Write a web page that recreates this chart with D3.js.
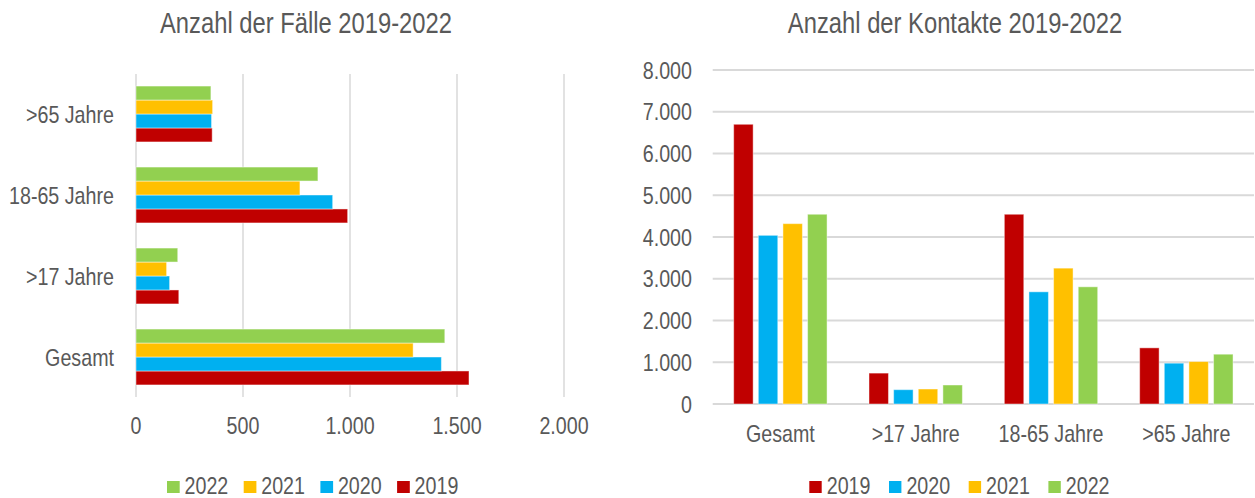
<!DOCTYPE html>
<html>
<head>
<meta charset="utf-8">
<script src="https://cdn.jsdelivr.net/npm/d3@7"></script>
<style>
  body { margin: 0; background: #fff; }
  svg text { font-family: 'Liberation Sans', Arial, sans-serif; fill: #595959; }
</style>
</head>
<body>
<svg id="chart" width="1255" height="498"></svg>
<script>
const groups = ['Gesamt', '>17 Jahre', '18-65 Jahre', '>65 Jahre']
const years = ['2019', '2020', '2021', '2022']
const colors = { 2019: '#C00000', 2020: '#00B0F0', 2021: '#FFC000', 2022: '#92D050' }

// Anzahl der Fälle, per group in order of `groups`
const faelle = {
  2019: [1556, 200, 989, 356],
  2020: [1427, 157, 919, 353],
  2021: [1295, 143, 766, 358],
  2022: [1443, 195, 850, 350]
}
// Anzahl der Kontakte
const kontakte = {
  2019: [6700, 740, 4545, 1345],
  2020: [4040, 343, 2687, 978],
  2021: [4320, 359, 3254, 1017],
  2022: [4545, 455, 2807, 1193]
}
const faelleTicks = [0, 500, 1000, 1500, 2000]
const kontakteTicks = [0, 1000, 2000, 3000, 4000, 5000, 6000, 7000, 8000]

const de = d3.formatLocale({ decimal: ',', thousands: '.', grouping: [3], currency: ['', '€'] })
const fmt = de.format(',')

// the original uses Arial Narrow: Arial squeezed horizontally
const SQ = 0.82
function place (sel, fx, fy) {
  sel.attr('transform', (d, i) => `translate(${fx(d, i)},${fy(d, i)}) scale(${SQ},1)`)
}

const svg = d3.select('#chart')

function rows (src) {
  return groups.map((g, i) => ({ group: g, values: years.map(y => ({ year: y, value: src[y][i] })) }))
}

// ---------- left: horizontal bars ----------
{
  const x = d3.scaleLinear().domain([0, 2000]).range([136, 564])
  const y = d3.scaleBand().domain(groups.slice().reverse()).range([73.5, 397.5])
    .paddingInner(0.31).paddingOuter(0.155)
  const yi = d3.scaleBand().domain(years.slice().reverse()).range([0, y.bandwidth()])

  const g = svg.append('g')

  g.selectAll('.grid')
    .data(faelleTicks)
    .enter().append('line')
      .attr('x1', d => x(d)).attr('x2', d => x(d))
      .attr('y1', 74).attr('y2', 397)
      .attr('stroke', '#d9d9d9').attr('stroke-width', 1.5)

  const grp = g.selectAll('.grp')
    .data(rows(faelle))
    .enter().append('g')
      .attr('transform', d => `translate(0,${y(d.group)})`)

  grp.selectAll('rect')
    .data(d => d.values)
    .enter().append('rect')
      .attr('x', x(0))
      .attr('y', d => yi(d.year))
      .attr('width', d => x(d.value) - x(0))
      .attr('height', yi.bandwidth())
      .attr('fill', d => colors[d.year])
      .attr('stroke', '#fff').attr('stroke-opacity', 0.45).attr('stroke-width', 1)

  g.selectAll('.ylab')
    .data(groups)
    .enter().append('text')
      .call(place, () => 114, d => y(d) + y.bandwidth() / 2)
      .attr('dy', '0.36em')
      .attr('text-anchor', 'end')
      .style('font-size', '24px')
      .text(d => d)

  g.selectAll('.xlab')
    .data(faelleTicks)
    .enter().append('text')
      .call(place, d => x(d), () => 434)
      .attr('text-anchor', 'middle')
      .style('font-size', '24px')
      .text(d => fmt(d))

  g.append('text')
    .datum('Anzahl der Fälle 2019-2022')
    .call(place, () => 306, () => 33)
    .attr('text-anchor', 'middle')
    .style('font-size', '29px')
    .text(d => d)

  const leg = g.selectAll('.leg')
    .data(years.slice().reverse())
    .enter().append('g')
      .attr('transform', (d, i) => `translate(${167 + i * 76.7},0)`)
  leg.append('rect')
    .attr('y', 481).attr('width', 12.7).attr('height', 12)
    .attr('fill', d => colors[d])
  leg.append('text')
    .call(place, () => 17.5, () => 493.5)
    .style('font-size', '24px')
    .text(d => d)
}

// ---------- right: vertical bars ----------
{
  const x = d3.scaleBand().domain(groups).range([712.7, 1254])
    .paddingInner(0.31).paddingOuter(0.155)
  const xi = d3.scaleBand().domain(years).range([0, x.bandwidth()]).paddingInner(0.21)
  const y = d3.scaleLinear().domain([0, 8000]).range([404, 70])

  const g = svg.append('g')

  g.selectAll('.grid')
    .data(kontakteTicks)
    .enter().append('line')
      .attr('x1', 712.7).attr('x2', 1254)
      .attr('y1', d => y(d)).attr('y2', d => y(d))
      .attr('stroke', '#d9d9d9').attr('stroke-width', 1.8)

  const grp = g.selectAll('.grp')
    .data(rows(kontakte))
    .enter().append('g')
      .attr('transform', d => `translate(${x(d.group)},0)`)

  grp.selectAll('rect')
    .data(d => d.values)
    .enter().append('rect')
      .attr('x', d => xi(d.year))
      .attr('y', d => y(d.value))
      .attr('width', xi.bandwidth())
      .attr('height', d => y(0) - y(d.value))
      .attr('fill', d => colors[d.year])
      .attr('stroke', '#fff').attr('stroke-opacity', 0.45).attr('stroke-width', 1)

  g.selectAll('.ylab')
    .data(kontakteTicks)
    .enter().append('text')
      .call(place, () => 692, d => y(d))
      .attr('dy', '0.36em')
      .attr('text-anchor', 'end')
      .style('font-size', '24px')
      .text(d => fmt(d))

  g.selectAll('.xlab')
    .data(groups)
    .enter().append('text')
      .call(place, d => x(d) + x.bandwidth() / 2, () => 442)
      .attr('text-anchor', 'middle')
      .style('font-size', '24px')
      .text(d => d)

  g.append('text')
    .datum('Anzahl der Kontakte 2019-2022')
    .call(place, () => 955, () => 33)
    .attr('text-anchor', 'middle')
    .style('font-size', '29px')
    .text(d => d)

  const leg = g.selectAll('.leg')
    .data(years)
    .enter().append('g')
      .attr('transform', (d, i) => `translate(${809.3 + i * 79.7},0)`)
  leg.append('rect')
    .attr('y', 481).attr('width', 12.4).attr('height', 12)
    .attr('fill', d => colors[d])
  leg.append('text')
    .call(place, () => 17.4, () => 493.5)
    .style('font-size', '24px')
    .text(d => d)
}
</script>
</body>
</html>
